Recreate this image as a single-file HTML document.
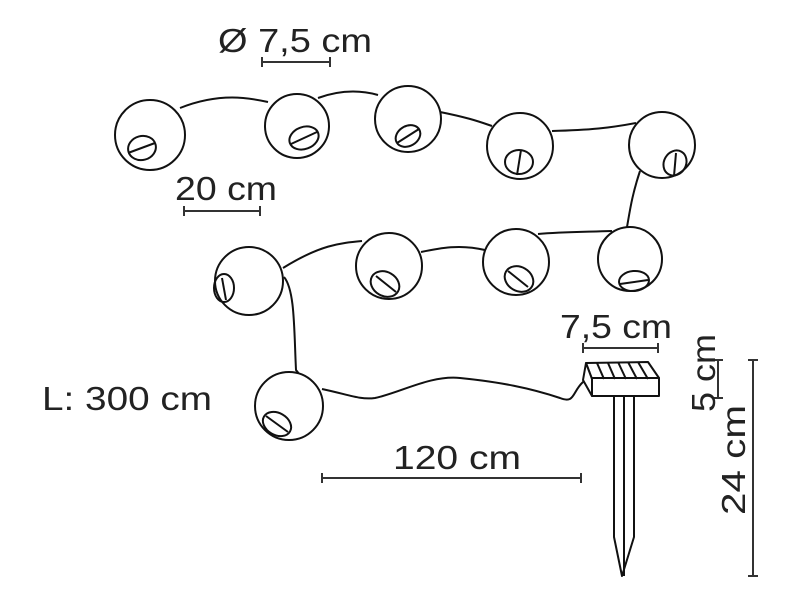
<!DOCTYPE html>
<html><head><meta charset="utf-8"><style>html,body{margin:0;padding:0;background:#fff}svg{display:block}</style></head>
<body>
<svg width="800" height="600" viewBox="0 0 800 600" xmlns="http://www.w3.org/2000/svg">
<g fill="none" stroke="#111" stroke-width="2">
<path d="M180,108 C220,92 250,98 268,102"/>
<path d="M318,98 C340,90 360,90 378,95"/>
<path d="M440,112 C470,118 480,122 492,126"/>
<path d="M552,131 C590,130 610,128 636,123"/>
<path d="M640,171 C632,195 630,210 627,227"/>
<path d="M283,268 C320,245 340,243 362,241"/>
<path d="M421,252 C440,248 460,244 485,250"/>
<path d="M538,234 C560,232 580,232 612,231"/>
<path d="M284,277 C295,290 294,330 296,370 L300,375"/>
<path d="M322,389 C350,395 360,400 375,398 C400,393 430,375 460,378 C500,382 530,388 560,398 C575,404 572,392 583,382 L590,381"/>
</g>
<g fill="#fff" stroke="#111" stroke-width="2">
<circle cx="150" cy="135" r="35"/>
<circle cx="297" cy="126" r="32"/>
<circle cx="408" cy="119" r="33"/>
<circle cx="520" cy="146" r="33"/>
<circle cx="662" cy="145" r="33"/>
<circle cx="249" cy="281" r="34"/>
<circle cx="389" cy="266" r="33"/>
<circle cx="516" cy="262" r="33"/>
<circle cx="630" cy="259" r="32"/>
<circle cx="289" cy="406" r="34"/>
</g>
<g fill="none" stroke="#111" stroke-width="2">
<ellipse cx="142" cy="148" rx="14" ry="12" transform="rotate(-15 142 148)"/><line x1="128" y1="153" x2="155" y2="143"/>
<ellipse cx="304" cy="138" rx="15" ry="11" transform="rotate(-20 304 138)"/><line x1="291" y1="144" x2="317" y2="132"/>
<ellipse cx="408" cy="136" rx="13" ry="10" transform="rotate(-30 408 136)"/><line x1="397" y1="143" x2="419" y2="129"/>
<ellipse cx="519" cy="162" rx="14" ry="12"/><line x1="517" y1="175" x2="521" y2="150"/>
<ellipse cx="675" cy="163" rx="13" ry="11" transform="rotate(-60 675 163)"/><line x1="674" y1="176" x2="676" y2="153"/>
<ellipse cx="224" cy="288" rx="10" ry="14"/><line x1="222" y1="278" x2="226" y2="300"/>
<ellipse cx="385" cy="284" rx="15" ry="12" transform="rotate(30 385 284)"/><line x1="376" y1="276" x2="396" y2="292"/>
<ellipse cx="519" cy="279" rx="15" ry="12" transform="rotate(30 519 279)"/><line x1="508" y1="271" x2="528" y2="287"/>
<ellipse cx="634" cy="281" rx="15" ry="10" transform="rotate(-5 634 281)"/><line x1="620" y1="284" x2="648" y2="280"/>
<ellipse cx="277" cy="424" rx="15" ry="11" transform="rotate(30 277 424)"/><line x1="266" y1="416" x2="288" y2="432"/>
</g>
<g fill="#fff" stroke="#111" stroke-width="2" stroke-linejoin="round">
<polygon points="586,363 648,362 659,378 592,379"/>
<polygon points="586,363 592,379 592,396 583,380"/>
<rect x="592" y="378" width="67" height="18"/>
<line x1="597" y1="363" x2="604" y2="379"/><line x1="608" y1="363" x2="615" y2="379"/><line x1="618" y1="362" x2="626" y2="379"/><line x1="628" y1="362" x2="637" y2="379"/><line x1="638" y1="362" x2="648" y2="379"/>
<polygon points="614,396 634,396 634,537 622,576 614,537"/>
<line x1="624" y1="396" x2="624" y2="576"/>
</g>
<g stroke="#333" stroke-width="2">
<line x1="262" y1="62" x2="330" y2="62"/><line x1="262" y1="57" x2="262" y2="67"/><line x1="330" y1="57" x2="330" y2="67"/>
<line x1="184" y1="211" x2="260" y2="211"/><line x1="184" y1="206" x2="184" y2="216"/><line x1="260" y1="206" x2="260" y2="216"/>
<line x1="322" y1="478" x2="581" y2="478"/><line x1="322" y1="473" x2="322" y2="483"/><line x1="581" y1="473" x2="581" y2="483"/>
<line x1="583" y1="348" x2="658" y2="348"/><line x1="583" y1="343" x2="583" y2="353"/><line x1="658" y1="343" x2="658" y2="353"/>
<line x1="718" y1="360" x2="718" y2="398"/><line x1="713" y1="360" x2="723" y2="360"/><line x1="713" y1="398" x2="723" y2="398"/>
<line x1="753" y1="360" x2="753" y2="576"/><line x1="748" y1="360" x2="758" y2="360"/><line x1="748" y1="576" x2="758" y2="576"/>
</g>
<g font-family="Liberation Sans, sans-serif" font-size="33" fill="#222">
<text x="218" y="52" textLength="154" lengthAdjust="spacingAndGlyphs">Ø 7,5 cm</text>
<text x="175" y="200" textLength="102" lengthAdjust="spacingAndGlyphs">20 cm</text>
<text x="42" y="410" textLength="170" lengthAdjust="spacingAndGlyphs">L: 300 cm</text>
<text x="393" y="469" textLength="128" lengthAdjust="spacingAndGlyphs">120 cm</text>
<text x="560" y="338" textLength="112" lengthAdjust="spacingAndGlyphs">7,5 cm</text>
<text transform="translate(715,412) rotate(-90)" textLength="78" lengthAdjust="spacingAndGlyphs">5 cm</text>
<text transform="translate(745,515) rotate(-90)" textLength="110" lengthAdjust="spacingAndGlyphs">24 cm</text>
</g>
</svg>
</body></html>
